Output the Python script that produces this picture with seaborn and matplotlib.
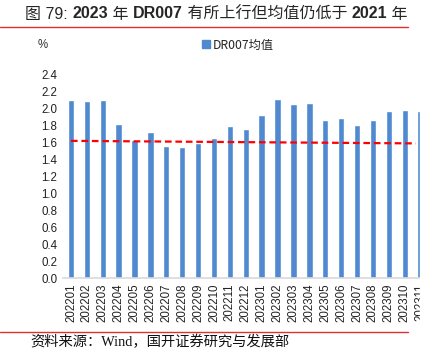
import matplotlib
matplotlib.use("Agg")
import matplotlib.pyplot as plt
import seaborn as sns
from matplotlib.lines import Line2D
from matplotlib.patches import Rectangle

# 月份与 DR007 月均值 (%)
months = ['202201', '202202', '202203', '202204', '202205', '202206',
          '202207', '202208', '202209', '202210', '202211', '202212',
          '202301', '202302', '202303', '202304', '202305', '202306',
          '202307', '202308', '202309', '202310', '202311']
dr007_avg = [2.10, 2.09, 2.10, 1.82, 1.635, 1.73,
             1.56, 1.55, 1.60, 1.655, 1.79, 1.765,
             1.92, 2.11, 2.05, 2.07, 1.86, 1.895,
             1.81, 1.87, 1.97, 1.98, 1.975]
# 红色虚线起止值
ref_line = [1.62, 1.59]

sns.set_style("white")
plt.rcParams['font.family'] = ['Noto Sans CJK SC', 'DejaVu Sans']

fig = plt.figure(figsize=(4.29, 3.63), dpi=100)
ax = fig.add_axes([63 / 429, 0.2333, 1 - 63 / 429, 0.561])

sns.barplot(x=months, y=dr007_avg, color='#5089D0', width=0.4,
            saturation=1, ax=ax)
ax.plot([0, len(months) - 1.3], ref_line, color='#FF0000', lw=1.6,
        linestyle=(0, (3, 1.7)))

ax.set_xlim(-0.5, 22.53)
ax.set_ylim(0, 2.4)
ax.set_yticks([i * 0.2 for i in range(13)])
ax.set_yticklabels([f'{i * 0.2:.1f}' for i in range(13)],
                   family=['Liberation Sans'], fontsize=8.3, color='#222222')
ax.set_xticks(range(len(months)))
ax.set_xticklabels(months, rotation=90, family=['Liberation Sans'],
                   fontsize=8.3, color='#222222')
ax.tick_params(axis='both', length=0, pad=4)
for s in ['top', 'right', 'left']:
    ax.spines[s].set_visible(False)
ax.spines['bottom'].set_color('#D9D9D9')
ax.spines['bottom'].set_linewidth(1.2)
ax.set_xlabel('')
ax.set_ylabel('')

# 原图右侧被截断
fig.add_artist(Rectangle((419.5 / 429, 0.05), 1, 0.85, color='white',
                         transform=fig.transFigure, zorder=10))

# 单位与图例
fig.text(43 / 429, 1 - 45 / 363, '%', fontsize=8.3, family=['Liberation Sans'],
         ha='center', va='center', color='#333333')
fig.legend(handles=[Line2D([], [], marker='s', ls='', color='#5089D0',
                           markersize=5.5)],
           labels=['DR007均值'], loc='center',
           bbox_to_anchor=(235 / 429, 1 - 45 / 363),
           frameon=False, fontsize=8.8, handletextpad=-0.2, borderpad=0,
           handlelength=1.5)

# 标题（数字加粗）
parts = [('图 79: ', 'normal'), ('2023', 'bold'), (' 年 ', 'normal'),
         ('DR007', 'bold'), (' 有所上行但均值仍低于 ', 'normal'),
         ('2021', 'bold'), (' 年', 'normal')]
fam = ['Liberation Sans', 'Noto Sans CJK SC']
renderer = fig.canvas.get_renderer()
x_px = 25
for txt, w in parts:
    t = fig.text(x_px / 429, 1 - 14 / 363, txt, fontsize=11.5, family=fam,
                 weight=w, ha='left', va='center')
    x_px = t.get_window_extent(renderer).x1

fig.add_artist(Line2D([0, 408 / 429], [1 - 27 / 363] * 2, color='#E03030',
                      lw=1.0, transform=fig.transFigure))
fig.add_artist(Line2D([0, 408 / 429], [1 - 332 / 363] * 2, color='#E03030',
                      lw=1.0, transform=fig.transFigure))

fig.text(30 / 429, 1 - 342 / 363, '资料来源：Wind，国开证券研究与发展部',
         fontsize=10.3, family=['Liberation Serif', 'Noto Sans CJK SC'],
         ha='left', va='center', color='#111111')

fig.savefig('out.png', dpi=100)
